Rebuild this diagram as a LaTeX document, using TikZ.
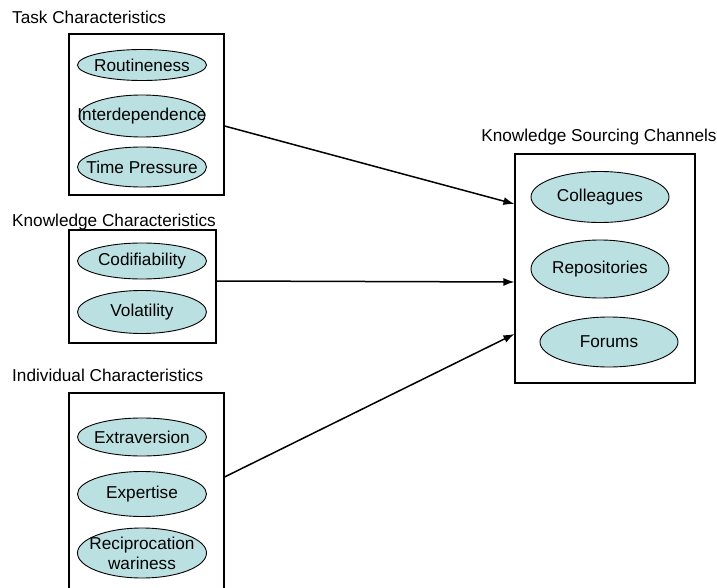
\documentclass[tikz,border=0pt]{standalone}
\usepackage{fontspec}
\setmainfont{Liberation Sans}
\usetikzlibrary{shapes.geometric,arrows.meta}
\definecolor{traitfill}{RGB}{187,224,226}
\begin{document}
\begin{tikzpicture}[x=1bp,y=-1bp,
    font=\fontsize{17.2bp}{19bp}\selectfont,
    group/.style={draw,line width=1.1bp,inner sep=0pt},
    trait/.style={ellipse,draw,fill=traitfill,line width=0.9bp,inner sep=0pt,minimum width=129bp},
    heading/.style={inner sep=0pt},
    link/.style={line width=1.5bp,-{Latex[length=11bp,width=8bp]}}]
    \clip (0,0) rectangle (717,588);
    \fill[white] (0,0) rectangle (717,588);

    \node[heading,anchor=west] (tasklabel) at (12,17) {Task Characteristics};
    \node[group,minimum width=155bp,minimum height=161bp] (taskbox) at (146.5,114.5) {};
    \node[trait,minimum height=31bp,label=center:Routineness] (routine) at (142,65) {};
    \node[trait,minimum height=42bp,minimum width=126bp,label=center:Interdependence] (interdep) at (142,116) {};
    \node[trait,minimum height=40bp,label=center:Time Pressure] (pressure) at (142,167) {};

    \node[heading,anchor=west] (knowlabel) at (12,222) {Knowledge Characteristics};
    \node[group,minimum width=147bp,minimum height=113bp] (knowbox) at (142.5,286.5) {};
    \node[trait,minimum height=36bp,label=center:Codifiability] (codif) at (142,261) {};
    \node[trait,minimum height=43bp,label=center:Volatility] (volat) at (142,312) {};

    \node[heading,anchor=west] (indivlabel) at (12,375) {Individual Characteristics};
    \node[group,minimum width=155bp,minimum height=220bp] (indivbox) at (146.5,503) {};
    \node[trait,minimum height=38bp,label=center:Extraversion] (extra) at (142,437) {};
    \node[trait,minimum height=45bp,label=center:Expertise] (expert) at (142,494) {};
    \node[trait,minimum height=50bp,label={[align=center,font=\fontsize{17.2bp}{20bp}\selectfont]center:Reciprocation\\wariness}] (recip) at (142,553) {};

    \node[heading] (chanlabel) at (599,137) {Knowledge Sourcing Channels};
    \node[group,minimum width=180bp,minimum height=229bp] (chanbox) at (605,268.5) {};
    \node[trait,minimum width=138bp,minimum height=51bp,label=center:Colleagues] (colleag) at (600,197) {};
    \node[trait,minimum width=138bp,minimum height=58bp,label=center:Repositories] (repos) at (600,269) {};
    \node[trait,minimum width=138bp,minimum height=50bp,label=center:Forums] (forums) at (609,342) {};

    \draw[link] ([yshift=-11.5bp]taskbox.east) -- ([yshift=64.5bp]chanbox.west);
    \draw[link] ([yshift=5.5bp]knowbox.east) -- ([yshift=-13.5bp]chanbox.west);
    \draw[link] ([yshift=26bp]indivbox.east) -- ([yshift=-65.5bp]chanbox.west);
\end{tikzpicture}
\end{document}
